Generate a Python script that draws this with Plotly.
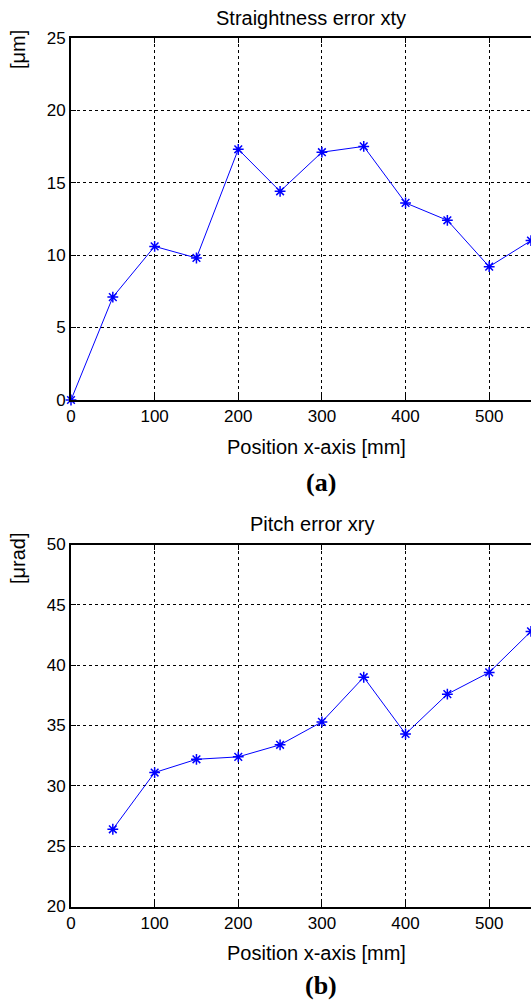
import plotly.graph_objects as go

# Data
pos_a = [0, 50, 100, 150, 200, 250, 300, 350, 400, 450, 500, 550]
straightness_xty = [0.0, 7.1, 10.6, 9.8, 17.3, 14.4, 17.1, 17.5, 13.6, 12.4, 9.2, 11.0]

pos_b = [50, 100, 150, 200, 250, 300, 350, 400, 450, 500, 550]
pitch_xry = [26.4, 31.1, 32.2, 32.4, 33.4, 35.3, 39.0, 34.3, 37.6, 39.4, 42.8]

x_ticks = [0, 100, 200, 300, 400, 500]
W, H = 531, 1000
BLUE = "#0000ff"
SANS = "Liberation Sans, Arial, sans-serif"
SERIF = "Liberation Serif, Times New Roman, serif"

fig = go.Figure()
marker = dict(symbol="asterisk-open", size=9, color=BLUE, line=dict(color=BLUE, width=1.5))
fig.add_trace(go.Scatter(x=pos_a, y=straightness_xty, mode="lines+markers",
                         line=dict(color=BLUE, width=1), marker=marker,
                         cliponaxis=False, xaxis="x", yaxis="y", showlegend=False))
fig.add_trace(go.Scatter(x=pos_b, y=pitch_xry, mode="lines+markers",
                         line=dict(color=BLUE, width=1), marker=marker,
                         cliponaxis=False, xaxis="x2", yaxis="y2", showlegend=False))

def px(v):
    return v / W

def py(v):
    return 1 - v / H

xdom = [px(71), 1.0]
common_x = dict(range=[0, 550], tickvals=x_ticks, showgrid=True, gridcolor="black",
                griddash="3px,3px", gridwidth=1, zeroline=False, showline=True,
                linecolor="black", linewidth=2, mirror="ticks", ticks="inside",
                ticklen=5, tickcolor="black", tickfont=dict(family=SANS, size=17, color="black"),
                domain=xdom, automargin=False)
common_y = dict(showgrid=True, gridcolor="black", griddash="3px,3px", gridwidth=1,
                zeroline=False, showline=True, linecolor="black", linewidth=2,
                ticks="inside", ticklen=5, tickcolor="black", automargin=False,
                tickfont=dict(family=SANS, size=17, color="black"))

fig.update_layout(
    width=W, height=H, margin=dict(l=0, r=0, t=0, b=0, pad=0, autoexpand=False),
    paper_bgcolor="white", plot_bgcolor="white",
    xaxis=dict(**common_x, anchor="y"),
    yaxis=dict(**common_y, range=[0, 25], dtick=5, domain=[py(400), py(37.7)], anchor="x"),
    xaxis2=dict(**common_x, anchor="y2"),
    yaxis2=dict(**common_y, range=[20, 50], dtick=5, domain=[py(906.5), py(544.5)], anchor="x2"),
)

def ann(text, x, y, size=20, family=SANS, angle=0):
    fig.add_annotation(text=text, x=px(x), y=py(y), xref="paper", yref="paper",
                       showarrow=False, textangle=angle, xanchor="center", yanchor="middle",
                       font=dict(family=family, size=size, color="black"))

ann("Straightness error xty", 311, 18)
ann("[μm]", 18, 50, angle=-90)
ann("Position x-axis [mm]", 316, 447)
ann("<b>(a)</b>", 321, 482, size=26, family=SERIF)

ann("Pitch error xry", 312, 524)
ann("[μrad]", 18, 558, angle=-90)
ann("Position x-axis [mm]", 316, 953)
ann("<b>(b)</b>", 321, 985, size=26, family=SERIF)

fig.write_html("out.html", config={"displayModeBar": False},
               post_script="document.body.style.margin='0';document.body.style.overflow='hidden';")
